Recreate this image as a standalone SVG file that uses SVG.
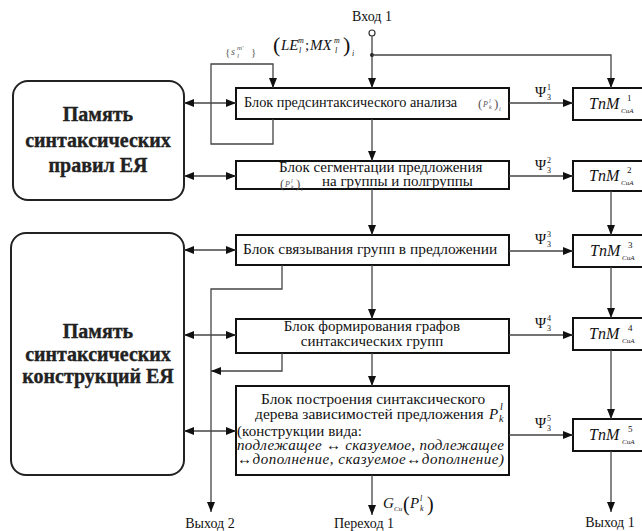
<svg xmlns="http://www.w3.org/2000/svg" width="642" height="531" viewBox="0 0 642 531" font-size="15">
<style>
.t{font-family:"Liberation Serif","DejaVu Serif",serif;fill:#111}
.i{font-style:italic}
.mem{font-family:"Liberation Serif","DejaVu Serif",serif;font-size:20px;font-weight:bold;fill:#222;stroke:#222;stroke-width:0.35;text-anchor:middle}
.blk{fill:#fff;stroke:#111;stroke-width:2}
.memb{fill:#fff;stroke:#222;stroke-width:2}
.c{fill:none;stroke:#444;stroke-width:1.3}
.g{fill:#555}
</style>
<defs>
<marker id="ah" markerUnits="userSpaceOnUse" markerWidth="10" markerHeight="8" refX="10" refY="4" orient="auto-start-reverse">
<path d="M0,0 L10,4 L0,8 z" fill="#111"/>
</marker>
</defs>

<g id="mem1">
<rect class="memb" x="13" y="81" width="171" height="119" rx="15"/>
<text class="mem" x="98" y="121">Память</text>
<text class="mem" x="98" y="147">синтаксических</text>
<text class="mem" x="98" y="172">правил ЕЯ</text>
</g>

<g id="mem2">
<rect class="memb" x="11" y="233" width="173" height="242" rx="15"/>
<text class="mem" x="98" y="338">Память</text>
<text class="mem" x="98" y="361">синтаксических</text>
<text class="mem" x="98" y="383">конструкций ЕЯ</text>
</g>

<g id="b1">
<rect class="blk" x="236" y="88" width="273" height="31"/>
<text class="t" x="244" y="107" font-size="14.3">Блок предсинтаксического анализа</text>
<text class="t g" x="478" y="108" font-size="13">(</text>
<text class="t i g" x="483" y="107" font-size="8">P</text>
<text class="t i g" x="489" y="103" font-size="6">l</text>
<text class="t i g" x="489" y="109" font-size="6">k</text>
<text class="t g" x="494" y="108" font-size="13">)</text>
<text class="t i g" x="499" y="111" font-size="6">i</text>
</g>

<g id="b2">
<rect class="blk" x="236" y="161" width="273" height="28"/>
<text class="t" x="279" y="172">Блок сегментации предложения</text>
<text class="t g" x="280" y="188" font-size="13">(</text>
<text class="t i g" x="285" y="187" font-size="8">P</text>
<text class="t i g" x="291" y="183" font-size="6">l</text>
<text class="t i g" x="291" y="189" font-size="6">k</text>
<text class="t g" x="296" y="188" font-size="13">)</text>
<text class="t i g" x="301" y="191" font-size="6">i</text>
<text class="t" x="322" y="186">на группы и полгруппы</text>
</g>

<g id="b3">
<rect class="blk" x="236" y="235" width="273" height="30"/>
<text class="t" x="243" y="254" font-size="15.4">Блок связывания групп в предложении</text>
</g>

<g id="b4">
<rect class="blk" x="236" y="319" width="273" height="34"/>
<text class="t" x="372" y="331" text-anchor="middle">Блок формирования графов</text>
<text class="t" x="372" y="346" text-anchor="middle">синтаксических групп</text>
</g>

<g id="b5">
<rect class="blk" x="236" y="386" width="273" height="89"/>
<text class="t" x="261" y="404" font-size="15.4">Блок построения синтаксического</text>
<text class="t" x="255" y="419" font-size="15.5">дерева зависимостей предложения</text>
<text class="t i" x="489" y="419" font-size="15">P</text>
<text class="t i" x="500" y="410" font-size="10">l</text>
<text class="t i" x="499" y="422" font-size="10">k</text>
<text class="t" x="237" y="436" textLength="125" lengthAdjust="spacing">(конструкции вида:</text>
<text class="t i" x="237" y="450" textLength="267" lengthAdjust="spacing">подлежащее ↔ сказуемое, подлежащее</text>
<text class="t i" x="237" y="464" textLength="267" lengthAdjust="spacing">↔дополнение, сказуемое↔дополнение)</text>
</g>

<g id="tnm1">
<rect class="blk" x="573" y="88" width="90" height="32"/>
<text class="t i" x="589" y="109" font-size="16">TnM</text>
<text class="t" x="627" y="101" font-size="9">1</text>
<text class="t i" x="621" y="113" font-size="7">СиА</text>
</g>
<g id="tnm2">
<rect class="blk" x="573" y="161" width="90" height="30"/>
<text class="t i" x="589" y="181" font-size="16">TnM</text>
<text class="t" x="627" y="173" font-size="9">2</text>
<text class="t i" x="621" y="185" font-size="7">СиА</text>
</g>
<g id="tnm3">
<rect class="blk" x="573" y="235" width="90" height="32"/>
<text class="t i" x="590" y="256" font-size="16">TnM</text>
<text class="t" x="628" y="248" font-size="9">3</text>
<text class="t i" x="622" y="260" font-size="7">СиА</text>
</g>
<g id="tnm4">
<rect class="blk" x="573" y="318" width="90" height="32"/>
<text class="t i" x="589" y="339" font-size="16">TnM</text>
<text class="t" x="628" y="331" font-size="9">4</text>
<text class="t i" x="622" y="343" font-size="7">СиА</text>
</g>
<g id="tnm5">
<rect class="blk" x="573" y="419" width="90" height="32"/>
<text class="t i" x="589" y="440" font-size="16">TnM</text>
<text class="t" x="628" y="432" font-size="9">5</text>
<text class="t i" x="622" y="444" font-size="7">СиА</text>
</g>

<g id="connectors">
<circle cx="372" cy="33" r="3" fill="#fff" stroke="#333" stroke-width="1.2"/>
<line class="c" x1="372" y1="36" x2="372" y2="88" marker-end="url(#ah)"/>
<circle cx="372" cy="55" r="2" fill="#222"/>
<path class="c" d="M372,55 H611 V88" marker-end="url(#ah)"/>
<path class="c" d="M273,119 V144 H211 V64 H273 V88" marker-end="url(#ah)"/>
<line class="c" x1="372" y1="119" x2="372" y2="161" marker-end="url(#ah)"/>
<line class="c" x1="372" y1="189" x2="372" y2="235" marker-end="url(#ah)"/>
<line class="c" x1="372" y1="265" x2="372" y2="319" marker-end="url(#ah)"/>
<line class="c" x1="372" y1="353" x2="372" y2="386" marker-end="url(#ah)"/>
<line class="c" x1="372" y1="475" x2="372" y2="515" marker-end="url(#ah)"/>
<path class="c" d="M282,265 V289 H211 V512" marker-end="url(#ah)"/>
<path class="c" d="M282,353 V371 H211" marker-end="url(#ah)"/>
<line class="c" x1="184" y1="103" x2="236" y2="103" marker-start="url(#ah)" marker-end="url(#ah)"/>
<line class="c" x1="184" y1="176" x2="236" y2="176" marker-start="url(#ah)" marker-end="url(#ah)"/>
<line class="c" x1="184" y1="250" x2="236" y2="250" marker-start="url(#ah)" marker-end="url(#ah)"/>
<line class="c" x1="184" y1="335" x2="236" y2="335" marker-start="url(#ah)" marker-end="url(#ah)"/>
<line class="c" x1="184" y1="431" x2="236" y2="431" marker-start="url(#ah)" marker-end="url(#ah)"/>
<line class="c" x1="509" y1="103" x2="573" y2="103" marker-end="url(#ah)"/>
<line class="c" x1="509" y1="176" x2="573" y2="176" marker-end="url(#ah)"/>
<line class="c" x1="509" y1="251" x2="573" y2="251" marker-end="url(#ah)"/>
<line class="c" x1="509" y1="335" x2="573" y2="335" marker-end="url(#ah)"/>
<line class="c" x1="509" y1="435" x2="573" y2="435" marker-end="url(#ah)"/>
<line class="c" x1="611" y1="191" x2="611" y2="235" marker-end="url(#ah)"/>
<line class="c" x1="611" y1="267" x2="611" y2="318" marker-end="url(#ah)"/>
<line class="c" x1="611" y1="350" x2="611" y2="419" marker-end="url(#ah)"/>
<line class="c" x1="611" y1="451" x2="611" y2="512" marker-end="url(#ah)"/>
</g>

<g id="labels">
<text class="t" x="372" y="21" text-anchor="middle" font-size="14">Вход 1</text>
<text class="t" x="273" y="52" font-size="22">(</text>
<text class="t i" x="281" y="50" font-size="15">LE</text>
<text class="t i" x="298" y="43" font-size="8">m</text>
<text class="t i" x="299" y="53" font-size="8">l</text>
<text class="t" x="305" y="50" font-size="15">;</text>
<text class="t i" x="310" y="50" font-size="15">MX</text>
<text class="t i" x="334" y="43" font-size="8">m</text>
<text class="t i" x="335" y="53" font-size="8">l</text>
<text class="t" x="343" y="52" font-size="22">)</text>
<text class="t i" x="352" y="56" font-size="8">i</text>
<text class="t g" x="225" y="56" font-size="11">{</text>
<text class="t i g" x="231" y="55" font-size="10">s</text>
<text class="t i g" x="237" y="50" font-size="7">m'</text>
<text class="t i g" x="237" y="58" font-size="7">l</text>
<text class="t g" x="251" y="56" font-size="11">}</text>

<text class="t" x="535" y="97" font-size="15">Ψ</text><text class="t" x="547" y="90" font-size="8">1</text><text class="t" x="547" y="100" font-size="8">3</text>
<text class="t" x="535" y="170" font-size="15">Ψ</text><text class="t" x="547" y="163" font-size="8">2</text><text class="t" x="547" y="173" font-size="8">3</text>
<text class="t" x="535" y="244" font-size="15">Ψ</text><text class="t" x="547" y="237" font-size="8">3</text><text class="t" x="547" y="247" font-size="8">3</text>
<text class="t" x="535" y="328" font-size="15">Ψ</text><text class="t" x="547" y="321" font-size="8">4</text><text class="t" x="547" y="331" font-size="8">3</text>
<text class="t" x="535" y="428" font-size="15">Ψ</text><text class="t" x="547" y="421" font-size="8">5</text><text class="t" x="547" y="431" font-size="8">3</text>

<text class="t i" x="383" y="508" font-size="15">G</text>
<text class="t i" x="394" y="511" font-size="7">Си</text>
<text class="t" x="403" y="511" font-size="20">(</text>
<text class="t i" x="410" y="508" font-size="15">P</text>
<text class="t i" x="420" y="501" font-size="8">l</text>
<text class="t i" x="420" y="511" font-size="8">k</text>
<text class="t" x="427" y="511" font-size="20">)</text>

<text class="t" x="364" y="528" text-anchor="middle" font-size="14">Переход 1</text>
<text class="t" x="210" y="528" text-anchor="middle" font-size="14">Выход 2</text>
<text class="t" x="610" y="527" text-anchor="middle" font-size="14">Выход 1</text>
</g>
</svg>
